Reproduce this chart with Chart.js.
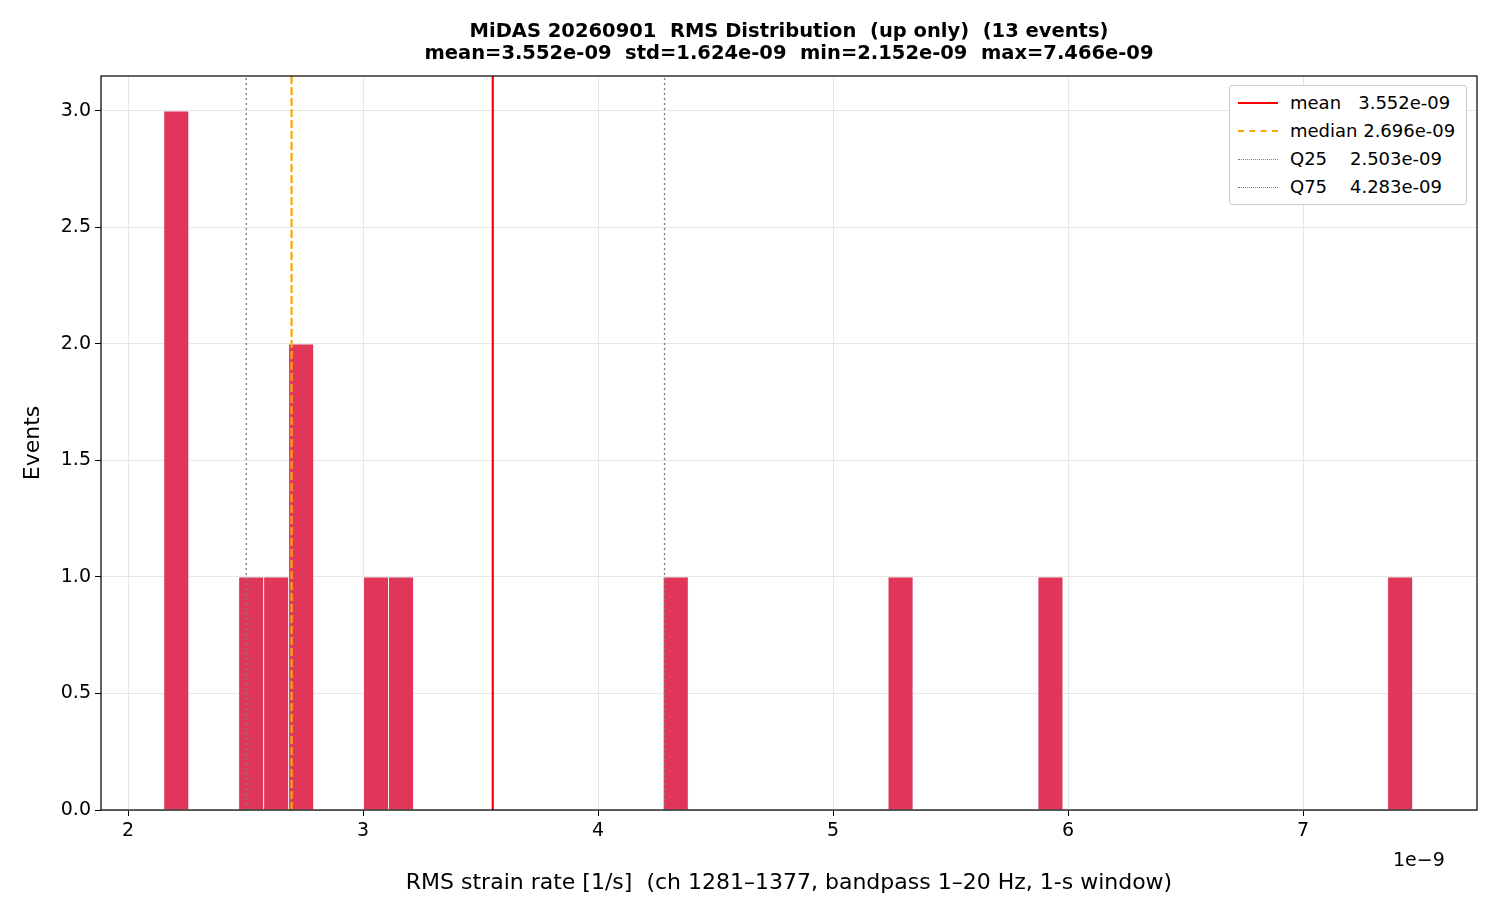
<!DOCTYPE html>
<html><head><meta charset="utf-8">
<script src="https://cdn.jsdelivr.net/npm/chart.js@4/dist/chart.umd.min.js"></script>
<style>
body{margin:0;background:#fff;font-family:"DejaVu Sans",sans-serif;}
#wrap{position:relative;width:1500px;height:900px;}
#title{position:absolute;top:20px;left:101px;width:1376px;text-align:center;font-weight:bold;font-size:19.5px;line-height:22px;}
#legend{position:absolute;top:85px;left:1229px;width:220px;border:1px solid #ccc;border-radius:3px;background:#fff;padding:3px 8px 3px 8px;font-size:18px;line-height:28px;}
#legend div{display:flex;align-items:center;white-space:pre;}
#legend span.l{display:inline-block;width:40px;height:0;margin-right:12px;}
#exp{position:absolute;left:1393px;top:848px;font-size:19px;}
</style></head><body>
<div id="wrap">
<canvas id="c" width="1500" height="900"></canvas>
<div id="title">MiDAS 20260901&nbsp; RMS Distribution&nbsp; (up only)&nbsp; (13 events)<br>mean=3.552e-09&nbsp; std=1.624e-09&nbsp; min=2.152e-09&nbsp; max=7.466e-09</div>
<div id="legend">
<div><span class="l" style="border-top:2px solid red"></span>mean   3.552e-09</div>
<div><span class="l" style="border-top:2px dashed orange"></span>median 2.696e-09</div>
<div><span class="l" style="border-top:1.5px dotted gray"></span>Q25    2.503e-09</div>
<div><span class="l" style="border-top:1.5px dotted gray"></span>Q75    4.283e-09</div>
</div>
<div id="exp">1e−9</div>
</div>
<script>
const binMin = 2.152, binMax = 7.466, nBins = 50;
const binIndex = [0, 3, 4, 5, 8, 9, 20, 29, 35, 49];
const binCount = [3, 1, 1, 2, 1, 1, 1, 1, 1, 1];
const statNames = ['mean', 'median', 'Q25', 'Q75'];
const statValues = [3.552, 2.696, 2.503, 4.283];
const xTicks = [2, 3, 4, 5, 6, 7];

const w = (binMax - binMin) / nBins;
const counts = new Array(nBins).fill(0);
binIndex.forEach((b, i) => counts[b] = binCount[i]);
const histData = counts.map((c, i) => ({x: binMin + (i + 0.5) * w, y: c}));
const styles = [
 {c:'red', w:2.2, d:[]}, {c:'orange', w:2.2, d:[8,3]}, {c:'gray', w:1.4, d:[2,3]}, {c:'gray', w:1.4, d:[2,3]}];
const lineSets = statValues.map((v, i) => ({
 type:'line', label:statNames[i], data:[{x:v,y:0},{x:v,y:3.15}],
 borderColor:styles[i].c, borderWidth:styles[i].w, borderDash:styles[i].d, pointRadius:0, order:0
}));
const frame = {id:'frame', afterDraw(ch){const a=ch.chartArea,ctx=ch.ctx;ctx.save();ctx.strokeStyle='#000';ctx.lineWidth=1.2;ctx.strokeRect(a.left,a.top,a.right-a.left,a.bottom-a.top);ctx.restore();}};
new Chart(document.getElementById('c'), {
 type:'bar',
 data:{datasets:[{label:'hist', data:histData, backgroundColor:'#e0365a', borderColor:'#f4f4f4', borderWidth:0.8, barPercentage:1, categoryPercentage:1, grouped:false, order:1}, ...lineSets]},
 options:{responsive:false, animation:false, layout:{padding:{top:76,right:23,left:0,bottom:0}},
  plugins:{legend:{display:false}, title:{display:false}, tooltip:{enabled:false}},
  scales:{
   x:{type:'linear', offset:false, min:1.885, max:7.74, afterFit(s){s.height=90;},
     afterBuildTicks(s){s.ticks=xTicks.map(v=>({value:v}));},
     ticks:{color:'#000', font:{size:19, family:'DejaVu Sans'}, callback:v=>String(v), maxRotation:0, padding:4},
     grid:{color:'#e6e6e6', tickColor:'#000', tickLength:6, offset:false},
     title:{display:true, text:'RMS strain rate [1/s]  (ch 1281–1377, bandpass 1–20 Hz, 1-s window)', color:'#000', font:{size:22, family:'DejaVu Sans'}, padding:{top:2}}},
   y:{min:0, max:3.15, afterFit(s){s.width=101;},
     afterBuildTicks(s){s.ticks=[0,0.5,1,1.5,2,2.5,3].map(v=>({value:v}));},
     ticks:{color:'#000', font:{size:19, family:'DejaVu Sans'}, callback:v=>v.toFixed(1), padding:4},
     grid:{color:'#e6e6e6', tickColor:'#000', tickLength:6},
     title:{display:true, text:'Events', color:'#000', font:{size:22, family:'DejaVu Sans'}, padding:{top:20}}}
  }},
 plugins:[frame]
});
</script>
</body></html>
